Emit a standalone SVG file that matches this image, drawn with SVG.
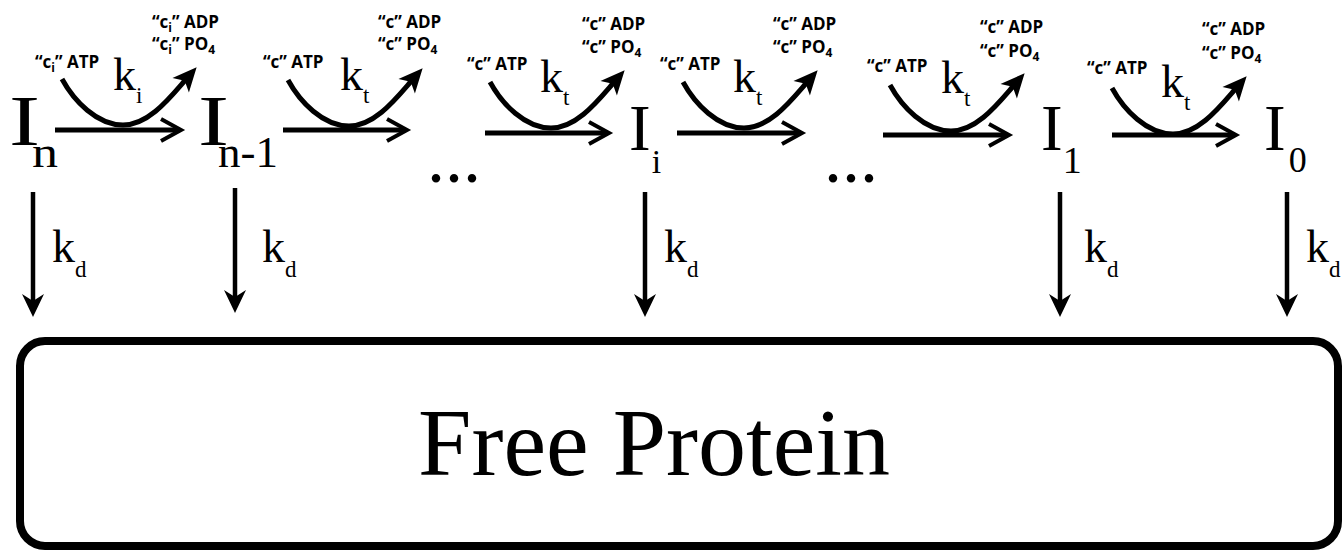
<svg xmlns="http://www.w3.org/2000/svg" xmlns:xlink="http://www.w3.org/1999/xlink" width="1342" height="550" viewBox="0 0 1342 550">
<style>
.lab{font-family:"Open Sans","Liberation Sans",sans-serif;font-weight:bold;font-size:17px;fill:#000}
.sb{font-size:12px}
.serif{font-family:"Liberation Serif","Times New Roman",serif;fill:#000}
.k{font-size:46px}
.ks{font-size:23px}
.dots{font-size:72px}
.curve{fill:none;stroke:#000;stroke-width:5;marker-end:url(#fhead)}
.harrow{fill:none;stroke:#000;stroke-width:5;marker-end:url(#open)}
.darrow{fill:none;stroke:#000;stroke-width:4.5;marker-end:url(#dhead)}
.box{fill:#fff;stroke:#000;stroke-width:8}
</style>
<defs>
<marker id="fhead" markerUnits="userSpaceOnUse" orient="auto" overflow="visible" markerWidth="1" markerHeight="1" refX="0" refY="0">
<path d="M13,0 L-11,-11 L-5,0 L-11,11 Z" fill="#000"/>
</marker>
<marker id="open" markerUnits="userSpaceOnUse" orient="auto" overflow="visible" markerWidth="1" markerHeight="1" refX="0" refY="0">
<path d="M-19,-11 L1,0 L-19,11" fill="none" stroke="#000" stroke-width="4"/>
</marker>
<marker id="dhead" markerUnits="userSpaceOnUse" orient="auto" overflow="visible" markerWidth="1" markerHeight="1" refX="0" refY="0">
<path d="M12,0 L-11,-11 L-4,0 L-11,11 Z" fill="#000"/>
</marker>
<path id="curve" class="curve" d="M0,0 C12,22 35,46 61,46 C88,46 110,16 126,-2"/>
</defs>

<g id="node-In">
<text class="serif" x="9" y="145"><tspan font-size="72" textLength="31" lengthAdjust="spacingAndGlyphs">I</tspan><tspan font-size="44" dx="-8" dy="22" textLength="26" lengthAdjust="spacingAndGlyphs">n</tspan></text>
</g>
<g id="node-In-1">
<text class="serif" x="198" y="145"><tspan font-size="72" textLength="31" lengthAdjust="spacingAndGlyphs">I</tspan><tspan font-size="44" dx="-11" dy="22" textLength="60" lengthAdjust="spacingAndGlyphs">n-1</tspan></text>
</g>
<g id="node-dots1"><text class="serif dots" x="427" y="182">...</text></g>
<g id="node-Ii">
<text class="serif" x="629" y="150"><tspan font-size="65">I</tspan><tspan font-size="34" dx="1" dy="23">i</tspan></text>
</g>
<g id="node-dots2"><text class="serif dots" x="824" y="182">...</text></g>
<g id="node-I1">
<text class="serif" x="1041" y="150"><tspan font-size="65">I</tspan><tspan font-size="38" dx="0" dy="23">1</tspan></text>
</g>
<g id="node-I0">
<text class="serif" x="1264" y="150"><tspan font-size="65">I</tspan><tspan font-size="36" dx="3" dy="22">0</tspan></text>
</g>
<g id="node-free">
<rect class="box" x="20" y="341" width="1318" height="205" rx="25"/>
<text class="serif" x="654" y="475" font-size="96" text-anchor="middle">Free Protein</text>
</g>

<g id="connectors">
<line class="harrow" x1="55" y1="130" x2="180" y2="130"/>
<line class="harrow" x1="283" y1="130" x2="406" y2="130"/>
<line class="harrow" x1="485" y1="133" x2="608" y2="133"/>
<line class="harrow" x1="677" y1="133" x2="801" y2="133"/>
<line class="harrow" x1="883" y1="135" x2="1008" y2="135"/>
<line class="harrow" x1="1112" y1="135" x2="1235" y2="135"/>
<use xlink:href="#curve" href="#curve" x="62" y="79"/>
<use xlink:href="#curve" href="#curve" x="288" y="80"/>
<use xlink:href="#curve" href="#curve" x="490" y="82"/>
<use xlink:href="#curve" href="#curve" x="683" y="82"/>
<use xlink:href="#curve" href="#curve" x="890" y="85"/>
<use xlink:href="#curve" href="#curve" x="1112" y="88"/>
<line class="darrow" x1="33" y1="192" x2="33" y2="305"/>
<line class="darrow" x1="235" y1="188" x2="235" y2="301"/>
<line class="darrow" x1="645" y1="192" x2="645" y2="305"/>
<line class="darrow" x1="1060" y1="192" x2="1060" y2="305"/>
<line class="darrow" x1="1287" y1="192" x2="1287" y2="305"/>
</g>

<g id="labels-steps">
<text class="lab" x="35" y="68">“c<tspan class="sb" dy="4">i</tspan><tspan dy="-4">” ATP</tspan></text>
<text class="lab" x="152" y="28">“c<tspan class="sb" dy="4">i</tspan><tspan dy="-4">” ADP</tspan></text>
<text class="lab" x="152" y="50">“c<tspan class="sb" dy="4">i</tspan><tspan dy="-4">” PO</tspan><tspan class="sb" dy="4">4</tspan></text>
<text class="serif" x="113" y="90"><tspan class="k">k</tspan><tspan class="ks" dy="13">i</tspan></text>

<text class="lab" x="263" y="68">“c” ATP</text>
<text class="lab" x="378" y="28">“c” ADP</text>
<text class="lab" x="378" y="50">“c” PO<tspan class="sb" dy="4">4</tspan></text>
<text class="serif" x="340" y="90"><tspan class="k">k</tspan><tspan class="ks" dy="13">t</tspan></text>

<text class="lab" x="467" y="70">“c” ATP</text>
<text class="lab" x="582" y="30">“c” ADP</text>
<text class="lab" x="582" y="53">“c” PO<tspan class="sb" dy="4">4</tspan></text>
<text class="serif" x="540" y="92"><tspan class="k">k</tspan><tspan class="ks" dy="13">t</tspan></text>

<text class="lab" x="660" y="70">“c” ATP</text>
<text class="lab" x="773" y="30">“c” ADP</text>
<text class="lab" x="773" y="53">“c” PO<tspan class="sb" dy="4">4</tspan></text>
<text class="serif" x="733" y="92"><tspan class="k">k</tspan><tspan class="ks" dy="13">t</tspan></text>

<text class="lab" x="867" y="72">“c” ATP</text>
<text class="lab" x="980" y="33">“c” ADP</text>
<text class="lab" x="980" y="57">“c” PO<tspan class="sb" dy="4">4</tspan></text>
<text class="serif" x="941" y="93"><tspan class="k">k</tspan><tspan class="ks" dy="13">t</tspan></text>

<text class="lab" x="1087" y="74">“c” ATP</text>
<text class="lab" x="1202" y="35">“c” ADP</text>
<text class="lab" x="1202" y="59">“c” PO<tspan class="sb" dy="4">4</tspan></text>
<text class="serif" x="1161" y="97"><tspan class="k">k</tspan><tspan class="ks" dy="13">t</tspan></text>
</g>

<g id="labels-kd">
<text class="serif" x="52" y="262"><tspan class="k">k</tspan><tspan class="ks" dy="15">d</tspan></text>
<text class="serif" x="262" y="262"><tspan class="k">k</tspan><tspan class="ks" dy="15">d</tspan></text>
<text class="serif" x="664" y="262"><tspan class="k">k</tspan><tspan class="ks" dy="15">d</tspan></text>
<text class="serif" x="1084" y="262"><tspan class="k">k</tspan><tspan class="ks" dy="15">d</tspan></text>
<text class="serif" x="1306" y="262"><tspan class="k">k</tspan><tspan class="ks" dy="15">d</tspan></text>
</g>
</svg>
